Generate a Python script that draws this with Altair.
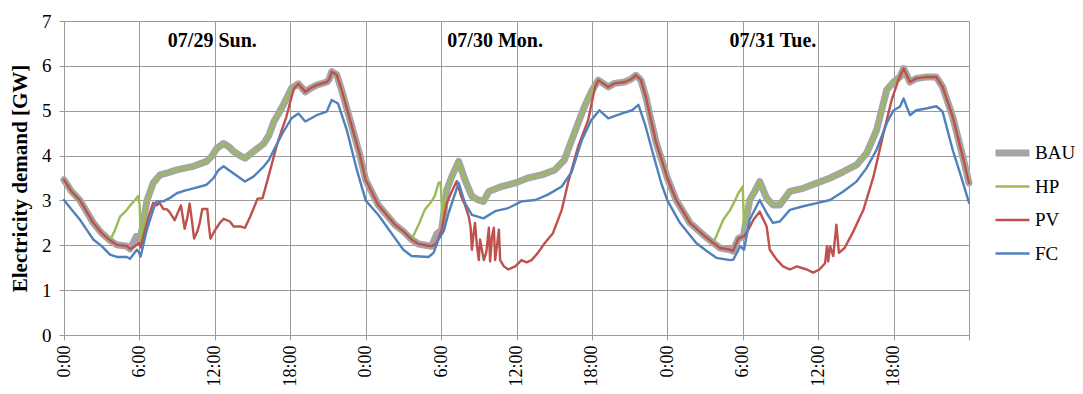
import altair as alt
import pandas as pd

# ---- data (hours from 07/29 0:00, GW) ----
bau_h = [0.0, 0.6, 1.27, 1.8, 2.33, 3.0, 3.66, 4.2, 5.0, 5.25, 5.5, 5.75, 6.05, 6.6, 7.1, 7.64, 8.3, 8.97, 9.6, 10.3,
         11.35, 11.8, 12.15, 12.7, 13.1, 13.5, 14.0, 14.4, 15.07, 15.9, 16.3, 16.7, 17.1, 17.45, 18.1, 18.65, 19.2,
         19.6, 20.1, 20.9, 21.1, 21.3, 21.7, 22.1, 22.5, 23.0, 23.5,
         24.0, 25.0, 26.33, 27.0, 27.65, 28.2, 29.0, 29.25, 29.65, 30.05, 30.45, 30.85, 31.4, 31.9, 32.45, 32.9,
         33.37, 33.8, 34.8, 35.9, 36.9, 38.0, 39.05, 39.8, 40.6, 41.4, 41.95, 42.5, 43.3, 43.8, 44.6, 45.1, 45.5,
         45.9, 46.3, 46.7, 47.1, 47.5,
         48.0, 48.7, 49.8, 51.0, 51.66, 52.2, 53.0, 53.22, 53.65, 54.05, 54.55, 54.95, 55.35, 55.9, 56.4, 56.95,
         57.75, 58.8, 59.9, 60.95, 62.0, 63.05, 63.85, 64.65, 65.45, 66.0, 66.5, 66.8, 67.3, 67.8, 68.6, 69.4,
         69.9, 70.7, 71.5, 72.0]
bau_v = [3.46, 3.2, 3.0, 2.75, 2.5, 2.27, 2.11, 2.01, 1.98, 1.92, 2.05, 2.2, 2.1, 3.0, 3.39, 3.57, 3.62, 3.68, 3.72, 3.76,
         3.87, 4.0, 4.16, 4.27, 4.2, 4.09, 4.0, 3.94, 4.09, 4.27, 4.45, 4.76, 4.95, 5.13, 5.5, 5.6, 5.42,
         5.5, 5.57, 5.64, 5.7, 5.87, 5.8, 5.45, 5.05, 4.55, 4.05,
         3.46, 2.9, 2.46, 2.31, 2.13, 2.03, 1.99, 1.98, 2.25, 2.35, 3.24, 3.53, 3.87, 3.46, 3.09, 3.02,
         2.98, 3.2, 3.31, 3.39, 3.5, 3.57, 3.68, 3.9, 4.5, 5.09, 5.42, 5.68, 5.53, 5.61, 5.64, 5.7, 5.79,
         5.68, 5.3, 4.79, 4.3, 3.95,
         3.5, 3.01, 2.5, 2.2, 2.05, 1.94, 1.9, 1.87, 2.15, 2.2, 3.01, 3.2, 3.42, 3.05, 2.9, 2.9,
         3.2, 3.27, 3.39, 3.5, 3.64, 3.79, 4.05, 4.57, 5.46, 5.64, 5.75, 5.94, 5.64, 5.72, 5.75, 5.75,
         5.53, 4.87, 3.98, 3.39]

# HP differs from BAU only in the early-morning windows
hp_windows = [(3.66, 6.6), (27.65, 30.45), (51.66, 54.55)]
hp_h = [3.66, 4.0, 4.46, 5.0, 5.3, 5.65, 5.9, 6.02, 6.1, 6.3, 6.6,
        27.65, 28.2, 28.7, 29.25, 29.5, 29.8, 29.97, 30.1, 30.3, 30.45,
        51.66, 52.45, 53.0, 53.3, 53.65, 54.0, 54.1, 54.3, 54.55]
hp_v = [2.11, 2.3, 2.64, 2.79, 2.9, 3.01, 3.1, 2.9, 2.0, 2.4, 3.0,
        2.13, 2.45, 2.79, 2.98, 3.1, 3.39, 3.41, 2.57, 2.9, 3.24,
        2.05, 2.57, 2.79, 2.95, 3.16, 3.31, 2.42, 2.7, 3.01]

# PV differs from BAU only during the daytime windows
pv_windows = [(5.4, 18.3), (29.5, 42.5), (54.1, 66.5)]
pv_h = [5.5, 5.75, 6.0, 6.1, 6.4, 6.8, 7.1, 7.37, 7.6, 7.9, 8.2, 8.4, 8.8, 9.3, 9.6, 9.8, 10.0, 10.2, 10.35,
        10.6, 10.8, 11.0, 11.4, 11.5, 11.65, 12.0, 12.4, 12.7, 13.2, 13.5, 14.0, 14.4, 14.8, 15.2, 15.4, 15.8,
        16.4, 16.9, 17.3, 17.7, 18.0, 18.3,
        29.65, 30.05, 30.45, 30.85, 31.25, 31.6, 31.9, 32.2, 32.35, 32.45, 32.6, 32.7, 32.85, 33.0, 33.1,
        33.25, 33.4, 33.6, 33.8, 33.9, 34.05, 34.2, 34.3, 34.45, 34.6, 34.7, 35.0, 35.35, 35.9, 36.4, 36.8,
        37.2, 37.7, 38.25, 38.9, 39.6, 40.1, 40.9, 41.7, 42.25, 42.5,
        54.1, 54.45, 54.85, 55.35, 55.9, 56.15, 56.7, 57.2, 57.75, 58.3, 59.1, 59.6, 60.1, 60.55, 60.7, 60.8,
        60.95, 61.2, 61.45, 61.65, 62.1, 62.8, 63.6, 64.4, 65.2, 65.85, 66.4]
pv_v = [1.95, 2.0, 2.05, 1.95, 2.3, 2.7, 2.95, 2.89, 2.95, 2.81, 2.8, 2.74, 2.56, 2.89, 2.37, 2.6, 2.93, 2.5,
        2.15, 2.3, 2.5, 2.81, 2.81, 2.5, 2.15, 2.33, 2.5, 2.59, 2.53, 2.42, 2.42, 2.39, 2.63, 2.9, 3.04, 3.05,
        3.67, 4.2, 4.55, 4.87, 5.2, 5.5,
        2.05, 2.35, 2.94, 3.2, 3.43, 3.09, 2.9, 2.64, 2.4, 1.9, 2.3, 2.5, 2.0, 1.67, 2.13,
        1.9, 1.67, 1.85, 2.39, 1.64, 2.2, 2.39, 1.67, 2.0, 2.35, 1.67, 1.53, 1.46, 1.53, 1.67, 1.62,
        1.67, 1.83, 2.05, 2.27, 2.79, 3.39, 4.2, 4.79, 5.53, 5.68,
        2.2, 2.35, 2.57, 2.75, 2.42, 1.9, 1.68, 1.53, 1.46, 1.53, 1.46, 1.39, 1.46, 1.6, 1.98, 1.64,
        1.98, 1.76, 2.46, 1.83, 1.94, 2.31, 2.79, 3.53, 4.5, 5.24, 5.7]

fc_h = [0.0, 0.6, 1.27, 1.8, 2.33, 3.0, 3.66, 4.2, 5.0, 5.25, 5.8, 5.95, 6.1, 6.3, 6.6, 7.1, 7.37, 7.9, 8.4, 8.97,
        9.6, 10.3, 11.35, 11.9, 12.3, 12.7, 13.1, 13.5, 14.0, 14.4, 15.07, 15.9, 16.3, 16.7, 17.45, 18.1, 18.65,
        19.2, 20.1, 20.9, 21.3, 21.8, 22.5, 23.3,
        24.0, 25.0, 26.33, 27.0, 27.65, 29.0, 29.4, 29.8, 30.2, 30.6, 31.4, 31.9, 32.45, 33.37, 34.3, 35.35,
        36.4, 37.5, 38.5, 39.6, 40.4, 41.2, 41.95, 42.6, 43.3, 44.4, 45.2, 45.7, 46.2, 47.0, 47.5,
        48.0, 49.0, 50.3, 51.0, 51.9, 53.0, 53.25, 53.8, 54.1, 54.55, 55.35, 55.9, 56.4, 56.95, 57.75, 58.8,
        59.9, 60.95, 62.0, 63.05, 63.85, 64.65, 65.45, 66.0, 66.5, 66.8, 67.3, 67.8, 68.6, 69.4, 69.9, 70.7,
        71.3, 72.0]
fc_v = [3.01, 2.8, 2.57, 2.35, 2.13, 1.98, 1.79, 1.74, 1.74, 1.7, 1.9, 1.85, 1.75, 2.0, 2.35, 2.8, 2.98, 2.98,
        3.05, 3.16, 3.22, 3.27, 3.35, 3.5, 3.68, 3.76, 3.68, 3.6, 3.5, 3.42, 3.53, 3.76, 3.9, 4.13, 4.53, 4.83,
        4.94, 4.76, 4.9, 4.98, 5.24, 5.16, 4.57, 3.68,
        3.0, 2.68, 2.16, 1.9, 1.76, 1.74, 1.83, 2.13, 2.31, 2.72, 3.39, 2.94, 2.68, 2.6, 2.76, 2.83,
        2.98, 3.01, 3.13, 3.31, 3.64, 4.35, 4.79, 5.01, 4.83, 4.94, 5.01, 5.13, 4.72, 3.9, 3.4,
        3.0, 2.5, 2.05, 1.9, 1.72, 1.67, 1.68, 1.98, 1.9, 2.57, 3.01, 2.72, 2.5, 2.53, 2.79, 2.87,
        2.94, 3.01, 3.2, 3.42, 3.72, 4.13, 4.72, 5.01, 5.09, 5.27, 4.9, 5.01, 5.05, 5.1, 4.98, 4.13,
        3.6, 2.95]

series_names = ["BAU", "HP", "PV", "FC"]
series_colors = ["#A5A5A5", "#9BBB59", "#C0504D", "#4F81BD"]
series_widths = [7, 2.4, 2.4, 2.4]

day_labels = ["07/29 Sun.", "07/30 Mon.", "07/31 Tue."]
day_label_h = [11.8, 34.3, 56.4]
day_label_v = [6.55, 6.55, 6.55]


def merge(base_h, base_v, windows, seg_h, seg_v):
    pts = [(h, v) for h, v in zip(base_h, base_v)
           if not any(a <= h <= b for a, b in windows)]
    pts += list(zip(seg_h, seg_v))
    pts.sort()
    return [p[0] for p in pts], [p[1] for p in pts]


hp_all_h, hp_all_v = merge(bau_h, bau_v, hp_windows, hp_h, hp_v)
pv_all_h, pv_all_v = merge(bau_h, bau_v, pv_windows, pv_h, pv_v)

frames = {
    "BAU": pd.DataFrame({"h": bau_h, "v": bau_v}),
    "HP": pd.DataFrame({"h": hp_all_h, "v": hp_all_v}),
    "PV": pd.DataFrame({"h": pv_all_h, "v": pv_all_v}),
    "FC": pd.DataFrame({"h": fc_h, "v": fc_v}),
}
for k, df in frames.items():
    df["series"] = k

FONT = "Liberation Serif"
GRID = "#9a9a9a"

x_enc = alt.X("h:Q", scale=alt.Scale(domain=[0, 72], nice=False),
              axis=alt.Axis(values=list(range(0, 73, 3)), title=None, labelAngle=-90,
                            labelExpr="datum.value == 72 ? '' : (datum.value % 24) + ':00'",
                            labelFont=FONT, labelFontSize=18, labelColor="#000",
                            tickSize=5, labelPadding=5, gridColor=GRID, tickColor=GRID,
                            domainColor=GRID, labelFlush=False))
y_enc = alt.Y("v:Q", scale=alt.Scale(domain=[0, 7], nice=False),
              axis=alt.Axis(values=list(range(0, 8)), title="Electricity demand [GW]",
                            titleFont=FONT, titleFontSize=21, titleFontWeight="bold",
                            titleColor="#000", titlePadding=11,
                            labelFont=FONT, labelFontSize=19, labelColor="#000",
                            tickSize=5, labelPadding=8, gridColor=GRID, tickColor=GRID,
                            domainColor=GRID, labelFlush=False))

legend_cfg = dict(title=None, orient="none", legendX=928, legendY=122,
                  symbolType="stroke", symbolSize=1156, clipHeight=20,
                  labelFont=FONT, labelFontSize=19, labelColor="#000",
                  rowPadding=13.5, labelOffset=2, padding=0)
color_enc = alt.Color("series:N", scale=alt.Scale(domain=series_names, range=series_colors),
                      legend=alt.Legend(**legend_cfg))
width_enc = alt.StrokeWidth("series:N",
                            scale=alt.Scale(type="ordinal", domain=series_names, range=series_widths),
                            legend=alt.Legend(**legend_cfg))

layers = []
for name in series_names:
    layers.append(
        alt.Chart(frames[name]).mark_line(strokeJoin="round", strokeCap="round").encode(
            x=x_enc, y=y_enc, color=color_enc, strokeWidth=width_enc, order="h:Q")
    )

labels_df = pd.DataFrame({"label": day_labels, "h": day_label_h, "v": day_label_v})
text = alt.Chart(labels_df).mark_text(font=FONT, fontSize=20, fontWeight="bold", color="#000",
                                      align="center", baseline="middle").encode(
    x=alt.X("h:Q"), y=alt.Y("v:Q"), text="label:N")

chart = alt.layer(*layers, text).properties(
    width=905, height=314,
    autosize=alt.AutoSizeParams(type="none"),
    padding={"left": 56, "top": 13, "right": 106, "bottom": 51},
).configure_view(stroke=None).configure_axis(gridWidth=1)

chart.save("out.html", embed_options={"renderer": "svg", "actions": False})
